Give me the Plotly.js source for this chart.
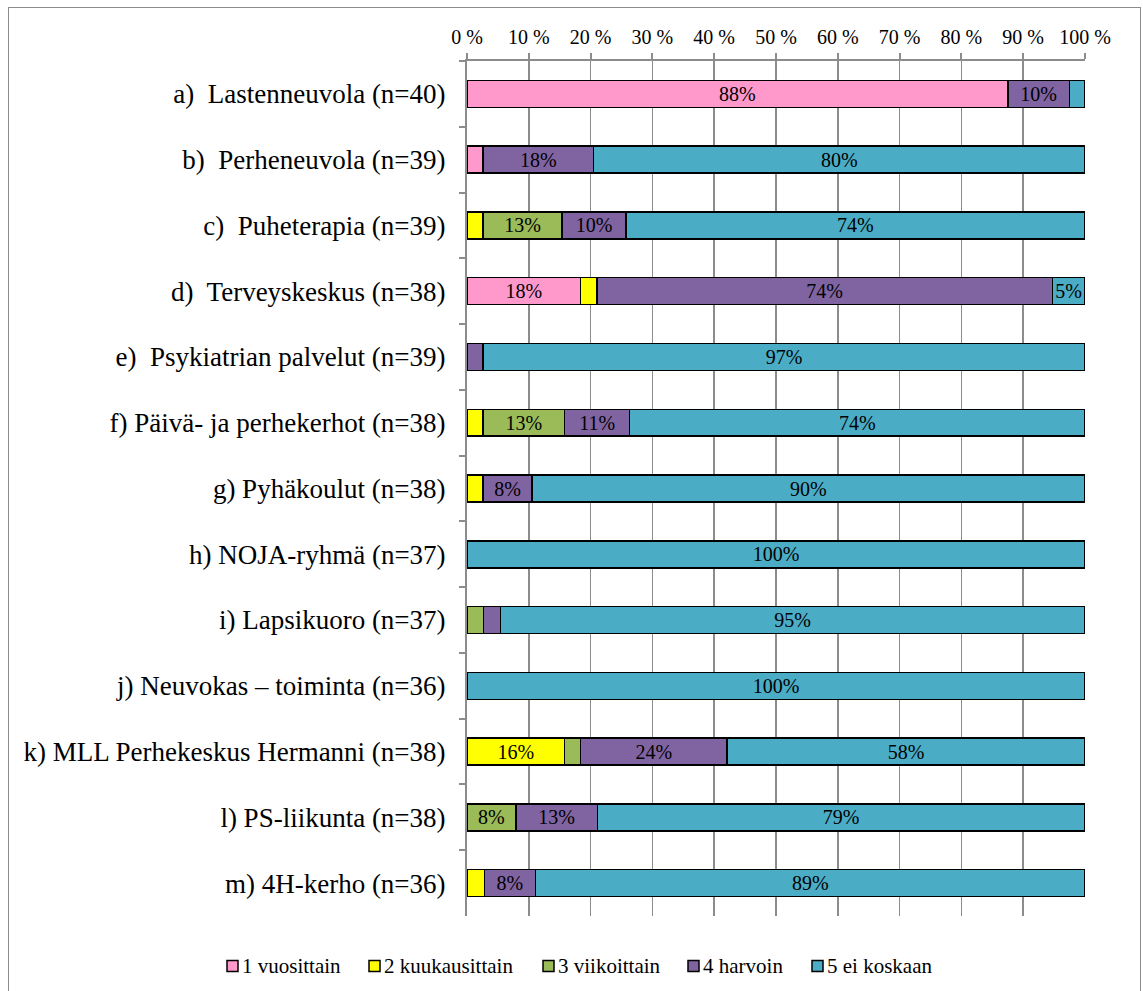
<!DOCTYPE html>
<html>
<head>
<meta charset="utf-8">
<script src="https://cdn.plot.ly/plotly-3.0.1.min.js"></script>
<style>
  body { margin: 0; padding: 0; background: #fff; }
  #wrap { position: relative; width: 1143px; height: 991px; overflow: hidden; }
  #chart { width: 1143px; height: 991px; }
  #frame { position: absolute; left: 8px; top: 7px; width: 1133px; height: 1010px;
           border: 1.5px solid #8c8c8c; box-sizing: border-box; pointer-events: none; }
</style>
</head>
<body>
<div id="wrap">
  <div id="chart"></div>
  <div id="frame"></div>
</div>
<script>
const categories = [
  'a)\u00a0 Lastenneuvola (n=40)',
  'b)\u00a0 Perheneuvola (n=39)',
  'c)\u00a0 Puheterapia (n=39)',
  'd)\u00a0 Terveyskeskus (n=38)',
  'e)\u00a0 Psykiatrian palvelut (n=39)',
  'f) Päivä- ja perhekerhot (n=38)',
  'g) Pyhäkoulut (n=38)',
  'h) NOJA-ryhmä (n=37)',
  'i) Lapsikuoro (n=37)',
  'j) Neuvokas – toiminta (n=36)',
  'k) MLL Perhekeskus Hermanni (n=38)',
  'l) PS-liikunta (n=38)',
  'm) 4H-kerho (n=36)'
];
const seriesNames = ['1 vuosittain', '2 kuukausittain', '3 viikoittain', '4 harvoin', '5 ei koskaan'];
const vuosittain    = [87.5, 2.6, null, 18.4, null, null, null, null, null, null, null, null, null];
const kuukausittain = [null, null, 2.6, 2.6, null, 2.6, 2.6, null, null, null, 15.8, null, 2.8];
const viikoittain   = [null, null, 12.8, null, null, 13.2, null, null, 2.7, null, 2.6, 7.9, null];
const harvoin       = [10, 17.9, 10.3, 73.7, 2.6, 10.5, 7.9, null, 2.7, null, 23.7, 13.2, 8.3];
const eiKoskaan     = [2.5, 79.5, 74.3, 5.3, 97.4, 73.7, 89.5, 100, 94.6, 100, 57.9, 78.9, 88.9];
const tickVals = [0, 10, 20, 30, 40, 50, 60, 70, 80, 90, 100];
const tickText = ['0 %', '10 %', '20 %', '30 %', '40 %', '50 %', '60 %', '70 %', '80 %', '90 %', '100 %'];

const colors = ['#FF99CC', '#FFFF00', '#9BBB59', '#8064A2', '#4BACC6'];
const seriesValues = [vuosittain, kuukausittain, viikoittain, harvoin, eiKoskaan];
const FONT = 'Liberation Serif, Times New Roman, serif';

// plot area geometry (pixels) used to place the hand-made legend
const PL = 467, PW = 618, PB = 916, PH = 855;
const legendLeft = [227, 369, 543, 688, 812];
const legendY = 966;
const px2x = p => (p - PL) / PW;
const px2y = p => (PB - p) / PH;

const traces = seriesValues.map((vals, i) => ({
  type: 'bar',
  orientation: 'h',
  name: seriesNames[i],
  y: categories,
  x: vals,
  text: vals.map(v => (v !== null && v >= 4) ? Math.round(v) + '%' : ''),
  textposition: 'inside',
  insidetextanchor: 'middle',
  constraintext: 'none',
  textfont: { family: FONT, size: 20, color: '#000' },
  marker: { color: colors[i], line: { color: '#000', width: 1.5 } },
  hoverinfo: 'name+x'
}));

const legendShapes = seriesNames.map((n, i) => ({
  type: 'rect', xref: 'paper', yref: 'paper',
  x0: px2x(legendLeft[i]), x1: px2x(legendLeft[i] + 11),
  y0: px2y(legendY - 5.5), y1: px2y(legendY + 5.5),
  fillcolor: colors[i], line: { color: '#000', width: 1.5 }
}));
const legendAnnotations = seriesNames.map((n, i) => ({
  xref: 'paper', yref: 'paper',
  x: px2x(legendLeft[i] + 13), y: px2y(legendY),
  xanchor: 'left', yanchor: 'middle',
  text: n, showarrow: false,
  font: { family: FONT, size: 21, color: '#000' }
}));

const layout = {
  width: 1143,
  height: 991,
  margin: { l: 467, r: 58, t: 61, b: 75 },
  paper_bgcolor: 'rgba(0,0,0,0)',
  plot_bgcolor: '#fff',
  barmode: 'stack',
  bargap: 0.59,
  font: { family: FONT, color: '#000' },
  showlegend: false,
  shapes: legendShapes,
  annotations: legendAnnotations,
  xaxis: {
    side: 'top',
    range: [0, 100],
    tickvals: tickVals,
    ticktext: tickText,
    ticks: 'outside',
    ticklen: 6,
    tickwidth: 2,
    tickcolor: '#8c8c8c',
    ticklabelstandoff: 1,
    showgrid: true,
    gridcolor: '#8c8c8c',
    gridwidth: 1.5,
    showline: true,
    linecolor: '#8c8c8c',
    linewidth: 2,
    zeroline: false,
    tickfont: { family: FONT, size: 20, color: '#000' },
    fixedrange: true
  },
  yaxis: {
    type: 'category',
    autorange: 'reversed',
    tickson: 'boundaries',
    ticks: 'outside',
    ticklen: 6,
    tickwidth: 2,
    tickcolor: '#8c8c8c',
    ticklabelstandoff: 14,
    showgrid: false,
    showline: true,
    linecolor: '#8c8c8c',
    linewidth: 2,
    zeroline: false,
    tickfont: { family: FONT, size: 27, color: '#000' },
    fixedrange: true
  }
};

Plotly.newPlot('chart', traces, layout, { displayModeBar: false, staticPlot: true });
</script>
</body>
</html>
